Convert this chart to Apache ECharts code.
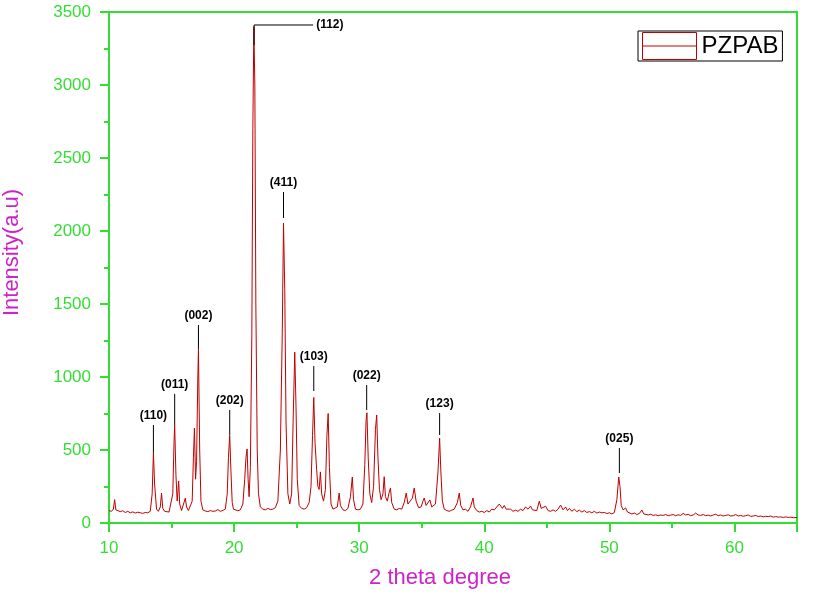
<!DOCTYPE html>
<html>
<head>
<meta charset="utf-8">
<title>PZPAB XRD</title>
<script src="https://cdn.jsdelivr.net/npm/echarts@6/dist/echarts.min.js"></script>
<style>
  html, body { margin: 0; padding: 0; background: #fff; }
  #chartContainer { width: 815px; height: 596px; }
</style>
</head>
<body>
<div id="chartContainer"></div>
<script>
// 2 theta / intensity pairs
var pattern = [
    [10.0, 85], [10.2, 80], [10.35, 95], [10.45, 160], [10.55, 90], [10.7, 82], [10.9, 78], [11.1, 84],
    [11.3, 72], [11.5, 80], [11.7, 70], [11.9, 76], [12.1, 68], [12.3, 74], [12.5, 70], [12.7, 66],
    [12.9, 72], [13.1, 70], [13.3, 80], [13.45, 200], [13.55, 480], [13.65, 260], [13.8, 95], [13.95, 80],
    [14.1, 110], [14.2, 205], [14.3, 100], [14.45, 80], [14.6, 78], [14.8, 75], [14.95, 85], [15.1, 200],
    [15.2, 560], [15.25, 670], [15.35, 330], [15.45, 150], [15.57, 288], [15.65, 130], [15.8, 85], [15.95, 90],
    [16.1, 170], [16.2, 110], [16.35, 85], [16.5, 92], [16.65, 150], [16.75, 450], [16.83, 650], [16.92, 300],
    [17.0, 420], [17.1, 1000], [17.15, 1190], [17.25, 500], [17.35, 150], [17.5, 90], [17.7, 82], [17.9, 78],
    [18.1, 85], [18.3, 80], [18.5, 82], [18.7, 92], [18.9, 80], [19.1, 86], [19.3, 95], [19.45, 200],
    [19.55, 450], [19.65, 600], [19.75, 350], [19.85, 140], [19.95, 95], [20.1, 90], [20.3, 84], [20.5, 90],
    [20.7, 130], [20.85, 300], [20.95, 450], [21.04, 507], [21.12, 300], [21.2, 180], [21.3, 380], [21.42, 1300],
    [21.5, 2700], [21.58, 3400], [21.66, 3000], [21.74, 1500], [21.85, 500], [21.95, 200], [22.1, 110], [22.3, 95],
    [22.5, 90], [22.7, 100], [22.9, 92], [23.1, 95], [23.3, 105], [23.5, 150], [23.7, 500], [23.85, 1300],
    [23.95, 2055], [24.05, 1600], [24.15, 700], [24.3, 200], [24.45, 130], [24.6, 200], [24.72, 700], [24.85, 1170],
    [24.95, 800], [25.05, 300], [25.2, 120], [25.4, 100], [25.6, 95], [25.8, 105], [26.0, 140], [26.15, 250],
    [26.27, 600], [26.37, 860], [26.47, 550], [26.6, 365], [26.7, 250], [26.8, 230], [26.9, 350], [27.0, 200],
    [27.15, 150], [27.3, 230], [27.42, 600], [27.52, 750], [27.62, 380], [27.75, 130], [27.9, 95], [28.05, 88],
    [28.25, 110], [28.4, 205], [28.5, 120], [28.7, 90], [28.9, 85], [29.1, 100], [29.3, 180], [29.45, 315],
    [29.55, 160], [29.7, 95], [29.9, 90], [30.1, 95], [30.3, 130], [30.45, 400], [30.55, 700], [30.62, 755],
    [30.72, 450], [30.85, 200], [31.0, 140], [31.15, 250], [31.3, 640], [31.4, 740], [31.5, 450], [31.62, 230],
    [31.75, 160], [31.9, 200], [32.0, 317], [32.1, 180], [32.25, 150], [32.4, 210], [32.5, 240], [32.6, 140],
    [32.8, 95], [33.0, 90], [33.2, 100], [33.4, 95], [33.6, 140], [33.76, 205], [33.9, 130], [34.05, 120],
    [34.25, 170], [34.4, 240], [34.55, 150], [34.75, 105], [34.95, 110], [35.1, 150], [35.2, 171], [35.35, 120],
    [35.5, 130], [35.65, 158], [35.8, 110], [35.95, 100], [36.1, 130], [36.3, 350], [36.43, 582], [36.53, 350],
    [36.65, 150], [36.8, 95], [37.0, 85], [37.2, 80], [37.4, 88], [37.6, 95], [37.85, 140], [38.0, 205],
    [38.12, 120], [38.3, 90], [38.5, 95], [38.7, 80], [38.9, 110], [39.1, 171], [39.2, 110], [39.4, 85],
    [39.6, 75], [39.8, 80], [40.0, 72], [40.2, 85], [40.4, 75], [40.6, 95], [40.8, 90], [41.0, 110],
    [41.2, 130], [41.3, 137], [41.45, 100], [41.6, 120], [41.75, 95], [41.9, 85], [42.1, 95], [42.3, 80],
    [42.5, 88], [42.7, 80], [42.9, 95], [43.1, 85], [43.3, 110], [43.5, 95], [43.7, 116], [43.85, 90],
    [44.0, 100], [44.2, 85], [44.4, 150], [44.55, 100], [44.7, 90], [44.9, 115], [45.1, 85], [45.3, 80],
    [45.5, 90], [45.7, 80], [45.9, 95], [46.1, 123], [46.3, 90], [46.5, 110], [46.65, 85], [46.8, 100],
    [47.0, 80], [47.2, 95], [47.4, 78], [47.6, 88], [47.8, 75], [48.0, 85], [48.2, 72], [48.4, 78],
    [48.6, 70], [48.8, 80], [49.0, 68], [49.2, 75], [49.4, 70], [49.6, 72], [49.8, 65], [50.0, 70],
    [50.2, 62], [50.4, 72], [50.6, 160], [50.75, 315], [50.85, 250], [50.95, 120], [51.1, 90], [51.3, 103],
    [51.45, 75], [51.6, 70], [51.8, 62], [52.0, 68], [52.2, 58], [52.4, 65], [52.6, 89], [52.75, 62],
    [52.9, 58], [53.1, 55], [53.3, 60], [53.5, 52], [53.7, 56], [53.9, 50], [54.1, 55], [54.3, 52],
    [54.5, 58], [54.7, 50], [54.9, 54], [55.1, 58], [55.3, 50], [55.5, 56], [55.7, 52], [55.9, 66],
    [56.1, 55], [56.3, 60], [56.5, 50], [56.7, 55], [56.9, 68], [57.1, 55], [57.3, 52], [57.5, 58],
    [57.7, 50], [57.9, 54], [58.1, 48], [58.3, 55], [58.5, 60], [58.7, 50], [58.9, 55], [59.1, 48],
    [59.3, 52], [59.5, 56], [59.7, 48], [59.9, 50], [60.1, 58], [60.3, 48], [60.5, 52], [60.7, 46],
    [60.9, 50], [61.1, 55], [61.3, 45], [61.5, 48], [61.7, 52], [61.9, 44], [62.1, 48], [62.3, 42],
    [62.5, 46], [62.7, 44], [62.9, 48], [63.1, 40], [63.3, 44], [63.5, 40], [63.7, 42], [63.9, 38],
    [64.1, 42], [64.3, 38], [64.5, 40], [64.7, 36], [65.0, 38]
];

// peak labels: hkl, 2 theta, leader line bottom / top (intensity), end of horizontal leader
var peakNames = ['(110)', '(011)', '(002)', '(202)', '(112)', '(411)', '(103)', '(022)', '(123)', '(025)'];
var peakTheta = [13.55, 15.25, 17.15, 19.65, 21.6, 23.95, 26.37, 30.6, 36.43, 50.8];
var leaderFrom = [480, 671, 1192, 603, 3274, 2089, 904, 774, 603, 342];
var leaderTo = [671, 884, 1356, 774, 3411, 2267, 1075, 945, 753, 514];
var leaderEnd = [0, 0, 0, 0, 26.32, 0, 0, 0, 0, 0];

var xTicks = { min: 10, max: 65, step: 10 };
var yTicks = { min: 0, max: 3500, step: 500 };

var green = '#33dd33';
var magenta = '#cc22cc';
var font = 'Arial, "Liberation Sans", sans-serif';

var leaders = [];
for (var i = 0; i < peakNames.length; i++) {
    leaders.push([peakTheta[i], leaderFrom[i], leaderTo[i], leaderEnd[i]]);
}

var chart = echarts.init(document.getElementById('chartContainer'));
var option = {
    backgroundColor: '#fff',
    animation: false,
    grid: {
        left: 109, right: 18, top: 12, bottom: 73,
        outerBoundsMode: 'none',
        containLabel: false,
        show: true,
        borderColor: green,
        borderWidth: 2
    },
    legend: {
        data: ['PZPAB'],
        left: 638,
        top: 31,
        orient: 'vertical',
        padding: [1, 4, 1, 4],
        itemWidth: 54,
        itemHeight: 27,
        itemGap: 4,
        borderColor: '#000',
        borderWidth: 1,
        borderRadius: 0,
        icon: 'path://M0,0 L54,0 L54,27 L0,27 Z M0,13.5 L54,13.5',
        itemStyle: { color: 'transparent', borderColor: '#c00000', borderWidth: 1 },
        textStyle: { fontSize: 24, color: '#000', fontFamily: font, padding: [3, 0, 0, 0] },
        selectedMode: false
    },
    xAxis: {
        type: 'value',
        min: xTicks.min,
        max: xTicks.max,
        interval: xTicks.step,
        name: '2 theta degree',
        nameLocation: 'middle',
        nameGap: 44,
        nameTextStyle: { color: magenta, fontSize: 22, fontFamily: font, padding: [0, 26, 0, 0] },
        axisLine: { lineStyle: { color: green, width: 2 } },
        axisTick: { length: 9, lineStyle: { color: green, width: 2 } },
        minorTick: { show: true, splitNumber: 2, length: 5, lineStyle: { color: green, width: 2 } },
        axisLabel: { color: green, fontSize: 17, fontFamily: font, margin: 17, showMaxLabel: false },
        splitLine: { show: false }
    },
    yAxis: {
        type: 'value',
        min: yTicks.min,
        max: yTicks.max,
        interval: yTicks.step,
        name: 'Intensity(a.u)',
        nameLocation: 'middle',
        nameGap: 86,
        nameTextStyle: { color: magenta, fontSize: 22, fontFamily: font, padding: [0, 0, 0, 30] },
        axisLine: { lineStyle: { color: green, width: 2 } },
        axisTick: { length: 9, lineStyle: { color: green, width: 2 } },
        minorTick: { show: true, splitNumber: 2, length: 5, lineStyle: { color: green, width: 2 } },
        axisLabel: {
            color: green, fontSize: 17, fontFamily: font, margin: 18,
            formatter: function (v) { return String(v); }
        },
        splitLine: { show: false }
    },
    series: [
        {
            name: 'PZPAB',
            type: 'line',
            data: pattern,
            showSymbol: false,
            symbol: 'none',
            color: '#c00000',
            lineStyle: { color: '#c00000', width: 1 },
            z: 3
        },
        {
            name: 'labels',
            type: 'custom',
            data: leaders,
            silent: true,
            clip: false,
            z: 4,
            renderItem: function (params, api) {
                var x = api.value(0);
                var a = api.coord([x, api.value(1)]);
                var b = api.coord([x, api.value(2)]);
                var xEnd = api.value(3);
                var kids = [{
                    type: 'line',
                    shape: { x1: a[0], y1: a[1], x2: b[0], y2: b[1] },
                    style: { stroke: '#000', lineWidth: 1 }
                }];
                var txt = { text: peakNames[params.dataIndex], font: 'bold 12px ' + font, fill: '#000' };
                if (xEnd > 0) {
                    var c = api.coord([xEnd, api.value(2)]);
                    kids.push({
                        type: 'line',
                        shape: { x1: b[0], y1: b[1], x2: c[0], y2: c[1] },
                        style: { stroke: '#000', lineWidth: 1 }
                    });
                    txt.x = c[0] + 3; txt.y = c[1];
                    txt.align = 'left'; txt.verticalAlign = 'middle';
                } else {
                    txt.x = b[0]; txt.y = b[1] - 3;
                    txt.align = 'center'; txt.verticalAlign = 'bottom';
                }
                kids.push({ type: 'text', style: txt });
                return { type: 'group', children: kids };
            }
        }
    ]
};
chart.setOption(option);
</script>
</body>
</html>
